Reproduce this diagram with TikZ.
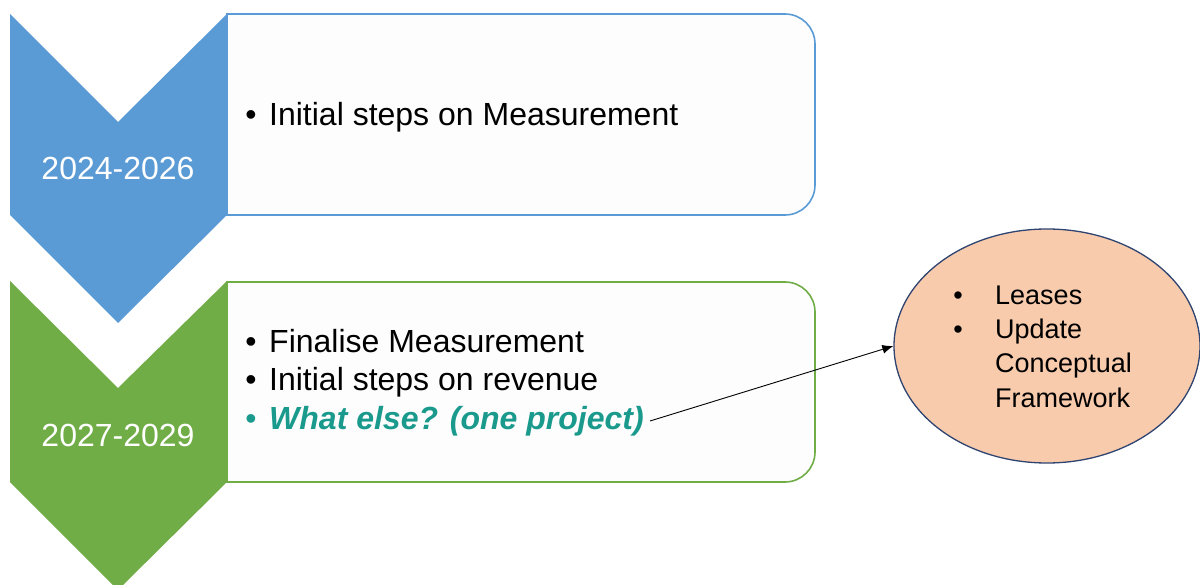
\documentclass[tikz,border=0pt]{standalone}
\usepackage{fontspec}
\setmainfont{Liberation Sans}
\usetikzlibrary{shapes.geometric,arrows.meta}
\definecolor{chevblue}{HTML}{5B9BD5}
\definecolor{chevgreen}{HTML}{70AD47}
\definecolor{panelfill}{HTML}{FDFDFD}
\definecolor{tealtext}{HTML}{1A9A8C}
\definecolor{peach}{HTML}{F8CBAD}
\definecolor{navyline}{HTML}{2F4470}
\begin{document}
\begin{tikzpicture}[x=1pt,y=-1pt,
  panel/.style={fill=panelfill,line width=1.6pt},
  chevron/.style={draw=none},
  year/.style={text=white,font=\fontsize{32}{38}\selectfont,inner sep=0},
  bulletdot/.style={anchor=base,inner sep=0,font=\fontsize{32}{38}\selectfont},
  item/.style={anchor=base west,inner sep=0,font=\fontsize{32}{38}\selectfont},
  ovaltext/.style={anchor=base west,inner sep=0,font=\fontsize{27}{32}\selectfont},
  ovaldot/.style={anchor=base,inner sep=0,font=\fontsize{27}{32}\selectfont},
  pointer/.style={line width=0.9pt,-{Latex[length=11pt,width=9pt]}}]
\useasboundingbox (0,0) rectangle (1200,585);

% first period: panel with rounded right corners, then the chevron
\path[panel,draw=chevblue] (227,14) -- (785,14)
  .. controls (801.6,14) and (815,27.4) .. (815,44) -- (815,185)
  .. controls (815,201.6) and (801.6,215) .. (785,215) -- (227,215) -- cycle;
\fill[chevblue] (10,14) -- (118,122) -- (227,14) -- (227,215) -- (118,323) -- (10,215) -- cycle;
\node[year] (y1) at (118,168) {2024-2026};
\node[bulletdot] (b1) at (251,126) {•};
\node[item] (t1) at (269,126) {Initial steps on Measurement};

% second period
\path[panel,draw=chevgreen] (227,282) -- (785,282)
  .. controls (801.6,282) and (815,295.4) .. (815,312) -- (815,452)
  .. controls (815,468.6) and (801.6,482) .. (785,482) -- (227,482) -- cycle;
\fill[chevgreen] (10,281) -- (118,388) -- (227,281) -- (227,482) -- (118,590) -- (10,482) -- cycle;
\node[year] (y2) at (118,435) {2027-2029};
\node[bulletdot] (b2) at (251,353) {•};
\node[item] (t2) at (269,353) {Finalise Measurement};
\node[bulletdot] (b3) at (251,391) {•};
\node[item] (t3) at (269,391) {Initial steps on revenue};
\node[bulletdot,text=tealtext] (b4) at (251,429) {•};
\node[item,text=tealtext,font=\fontsize{32}{38}\selectfont\bfseries\itshape] (t4) at (269,429) {What else? (one project)};

% candidate projects
\node[ellipse,draw=navyline,fill=peach,line width=1.3pt,minimum width=306pt,minimum height=234pt,inner sep=0] (ov) at (1047,346) {};
\node[ovaldot] (c1) at (958,305) {•};
\node[ovaltext] (o1) at (995,305) {Leases};
\node[ovaldot] (c2) at (958,339) {•};
\node[ovaltext] (o2) at (995,339) {Update};
\node[ovaltext] (o3) at (995,373) {Conceptual};
\node[ovaltext] (o4) at (995,407) {Framework};

\coordinate (from) at (650,421);
\draw[pointer] (from) -- (ov.west);
\end{tikzpicture}
\end{document}
